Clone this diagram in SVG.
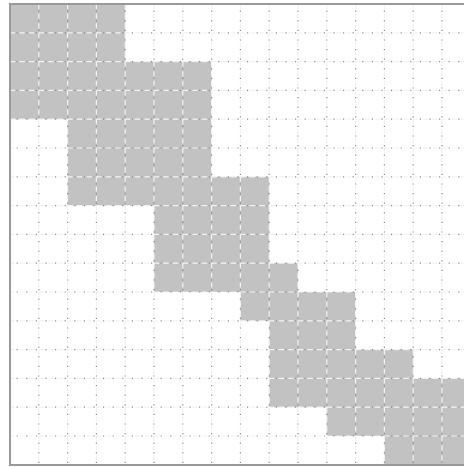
<svg xmlns="http://www.w3.org/2000/svg" xmlns:xlink="http://www.w3.org/1999/xlink" width="464" height="467" viewBox="0 0 464 467">
<style>
.cell{fill:#c2c2c2}
.gl{fill:none;stroke:#f2f2f2;stroke-width:1.2;stroke-dasharray:5 4.6}
.gd{fill:none;stroke:#8a8a8a;stroke-width:1.2;stroke-dasharray:1.2 8.4;stroke-dashoffset:-6.6}
.border{fill:none;stroke:#9a9a9a;stroke-width:2}
</style>
<defs>
<path id="grid" d="M38.8 4V465M67.6 4V465M96.4 4V465M125.2 4V465M154 4V465M182.8 4V465M211.6 4V465M240.4 4V465M269.2 4V465M298 4V465M326.8 4V465M355.6 4V465M384.4 4V465M413.2 4V465M442 4V465M10 32.8H464M10 61.6H464M10 90.4H464M10 119.2H464M10 148H464M10 176.8H464M10 205.6H464M10 234.4H464M10 263.2H464M10 292H464M10 320.8H464M10 349.6H464M10 378.4H464M10 407.2H464M10 436H464"/>
</defs>
<rect width="464" height="467" fill="#ffffff"/>
<g id="cells">
<rect class="cell" x="10" y="4" width="115.2" height="57.6"/>
<rect class="cell" x="10" y="61.6" width="201.6" height="57.6"/>
<rect class="cell" x="67.6" y="119.2" width="144" height="57.6"/>
<rect class="cell" x="67.6" y="176.8" width="201.6" height="28.8"/>
<rect class="cell" x="154" y="205.6" width="115.2" height="57.6"/>
<rect class="cell" x="154" y="263.2" width="144" height="28.8"/>
<rect class="cell" x="240.4" y="292" width="115.2" height="28.8"/>
<rect class="cell" x="269.2" y="320.8" width="86.4" height="28.8"/>
<rect class="cell" x="269.2" y="349.6" width="144" height="28.8"/>
<rect class="cell" x="269.2" y="378.4" width="201.6" height="28.8"/>
<rect class="cell" x="326.8" y="407.2" width="144" height="28.8"/>
<rect class="cell" x="384.4" y="436" width="86.4" height="28.8"/>
</g>
<g id="gridlines">
<use xlink:href="#grid" class="gl"/>
<use xlink:href="#grid" class="gd"/>
</g>
<g id="frame">
<path class="border" d="M466 4H10V465H466"/>
</g>
</svg>
